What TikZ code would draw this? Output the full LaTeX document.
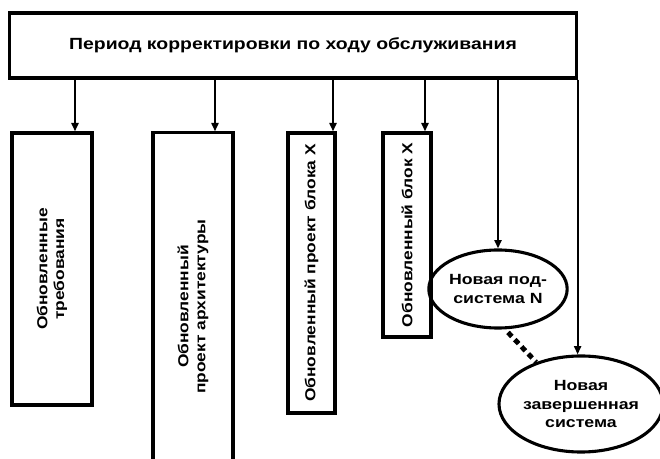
\documentclass[tikz,border=0pt]{standalone}
\usepackage{fontspec}
\setmainfont{Liberation Sans}[FakeStretch=1.2]
\usetikzlibrary{positioning, arrows.meta, shapes.geometric}

\begin{document}
\begin{tikzpicture}[x=0.025cm, y=-0.025cm, >={Triangle[length=6pt, width=5pt]},
  blk/.style={draw, line width=2.2pt, inner sep=0pt, align=center, font=\bfseries\fontsize{10.3}{12}\selectfont},
  vblk/.style={blk, rotate=90},
  ell/.style={ellipse, draw, line width=2.2pt, inner sep=0pt, align=center, font=\bfseries\fontsize{10.5}{13.5}\selectfont},
  link/.style={->, line width=1.5pt}]

  \useasboundingbox (0,0) rectangle (660,459);
  \clip (0,0) rectangle (660,459);

  % Blocks
  \node[blk, minimum width=14.15cm, minimum height=1.625cm, font=\bfseries\fontsize{11.5}{13}\selectfont] (period) at (293,45.5) {Период корректировки по ходу обслуживания};
  \node[vblk, minimum width=6.8cm, minimum height=2cm] (req) at (52,269) {Обновленные\\требования};
  \node[vblk, minimum width=8.675cm, minimum height=2cm] (arch) at (193,306.5) {Обновленный\\проект архитектуры};
  \node[vblk, minimum width=7cm, minimum height=1.175cm] (unitdes) at (311.5,273) {Обновленный проект блока X};
  \node[vblk, minimum width=5.1cm, minimum height=1.2cm] (unit) at (407,235) {Обновленный блок X};
  \node[ell, minimum width=3.075cm, minimum height=1.95cm] (subsys) at (498,289) {Новая под-\\система N};
  \node[ell, minimum width=3.95cm, minimum height=2.4cm] (system) at (581,404) {Новая\\завершенная\\система};

  % Arrows
  \draw[link] (75,0 |- period.south) -- (75,0 |- req.east);
  \draw[link] (215,0 |- period.south) -- (215,0 |- arch.east);
  \draw[link] (333,0 |- period.south) -- (333,0 |- unitdes.east);
  \draw[link] (425,0 |- period.south) -- (425,0 |- unit.east);
  \draw[link] (subsys.north |- period.south) -- (subsys.north);
  \draw[link] (period.south east) -- (period.south east |- system.north);

  % Dotted link
  \draw[line width=3.5pt, dash pattern=on 4pt off 3pt, shorten <=3pt] (subsys.-80) -- (system.137);

\end{tikzpicture}
\end{document}
